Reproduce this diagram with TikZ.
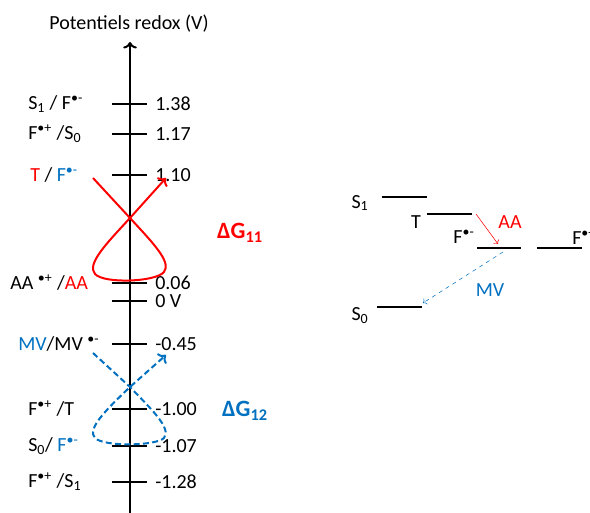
\documentclass[tikz,border=0pt]{standalone}
\usepackage{fontspec}
\setmainfont{Carlito}
\usetikzlibrary{arrows.meta, positioning}
\definecolor{ablue}{RGB}{0,112,192}

\begin{document}
\begin{tikzpicture}[x=0.75pt,y=-0.75pt,
        every node/.style={font=\fontsize{15}{18}\selectfont, inner sep=0pt},
        tickmark/.style={line width=1.5pt},
        lvl/.style={line width=1.5pt},
        lbl/.style={anchor=west},
        dg/.style={font=\fontsize{17.5}{20}\selectfont\bfseries}]
        \useasboundingbox (0,0) rectangle (590,513);

        % potential axis
        \coordinate (axbot) at (130,513);
        \coordinate (axtop) at (130,42);
        \draw[line width=1.5pt,->] (axbot) -- (axtop);
        \node (title) at (129,24) {Potentiels redox (V)};

        \draw[tickmark] (112,104) -- (147,104);
        \draw[tickmark] (112,134) -- (147,134);
        \draw[tickmark] (112,175) -- (147,175);
        \draw[tickmark] (112,283) -- (147,283);
        \draw[tickmark] (112,301) -- (147,301);
        \draw[tickmark] (112,344) -- (147,344);
        \draw[tickmark] (112,409) -- (147,409);
        \draw[tickmark] (112,446) -- (147,446);
        \draw[tickmark] (112,482) -- (147,482);

        \node[lbl] (v1) at (155,104) {1.38};
        \node[lbl] (v2) at (155,134) {1.17};
        \node[lbl] (v3) at (155,175) {1.10};
        \node[lbl] (v4) at (155,283) {0.06};
        \node[lbl] (v5) at (155,301) {0 V};
        \node[lbl] (v6) at (155,344) {-0.45};
        \node[lbl] (v7) at (155,409) {-1.00};
        \node[lbl] (v8) at (155,446) {-1.07};
        \node[lbl] (v9) at (155,482) {-1.28};

        \node[lbl] (c1) at (28,104) {S\textsubscript{1} / F\textsuperscript{•-}};
        \node[lbl] (c2) at (28,134) {F\textsuperscript{•+} /S\textsubscript{0}};
        \node[lbl] (c3) at (30,175) {{\color{red}T} / {\color{ablue}F\textsuperscript{•-}}};
        \node[lbl] (c4) at (10,283) {AA \textsuperscript{•+} /{\color{red}AA}};
        \node[lbl] (c6) at (18,344) {{\color{ablue}MV}/MV \textsuperscript{•-}};
        \node[lbl] (c7) at (28,409) {F\textsuperscript{•+} /T};
        \node[lbl] (c8) at (28,446) {S\textsubscript{0}/ {\color{ablue}F\textsuperscript{•-}}};
        \node[lbl] (c9) at (28,482) {F\textsuperscript{•+} /S\textsubscript{1}};

        % reorganisation loops
        \coordinate (r1) at (93,178);
        \coordinate (rx) at (130,218);
        \coordinate (r2) at (166,178);
        \draw[red,line width=1.5pt,->] (r1) -- (rx)
            .. controls (152,242) and (172,262) .. (164,272)
            .. controls (156,282) and (104,284) .. (95,274)
            .. controls (86,264) and (108,242) .. (rx) -- (r2);
        \node[dg,red] (dg11) at (240,233) {ΔG\textsubscript{11}};

        \coordinate (b1) at (93,353);
        \coordinate (bx) at (130,387);
        \coordinate (b2) at (166,355);
        \draw[ablue,line width=1.5pt,dash pattern=on 4.5pt off 2.5pt,->] (b1) -- (bx)
            .. controls (150,408) and (172,428) .. (164,438)
            .. controls (156,446) and (104,447) .. (95,438)
            .. controls (86,429) and (108,408) .. (bx) -- (b2);
        \node[dg,ablue] (dg12) at (245,411) {ΔG\textsubscript{12}};

        % energy levels
        \draw[lvl] (382,197) -- (427,197);
        \draw[lvl] (427,214) -- (472,214);
        \draw[lvl] (477,248) -- (521,248);
        \draw[lvl] (537,248) -- (582,248);
        \draw[lvl] (377,307) -- (422,307);
        \node (S1) at (360,203) {S\textsubscript{1}};
        \node (T)  at (416,222) {T};
        \node (Fm) at (464,237) {F\textsuperscript{•-}};
        \node[lbl] (Fp) at (572,237) {F\textsuperscript{•+}};
        \node (S0) at (360,316) {S\textsubscript{0}};

        \coordinate (Tend) at (476,214);
        \coordinate (Ftop) at (498,244);
        \coordinate (Fbot) at (503,252);
        \coordinate (S0end) at (423,303);
        \draw[red,->] (Tend) -- (Ftop);
        \draw[ablue,dashed,->] (Fbot) -- (S0end);
        \node[red] (AA) at (510,222) {AA};
        \node[ablue] (MV) at (490,290) {MV};
    \end{tikzpicture}
\end{document}
